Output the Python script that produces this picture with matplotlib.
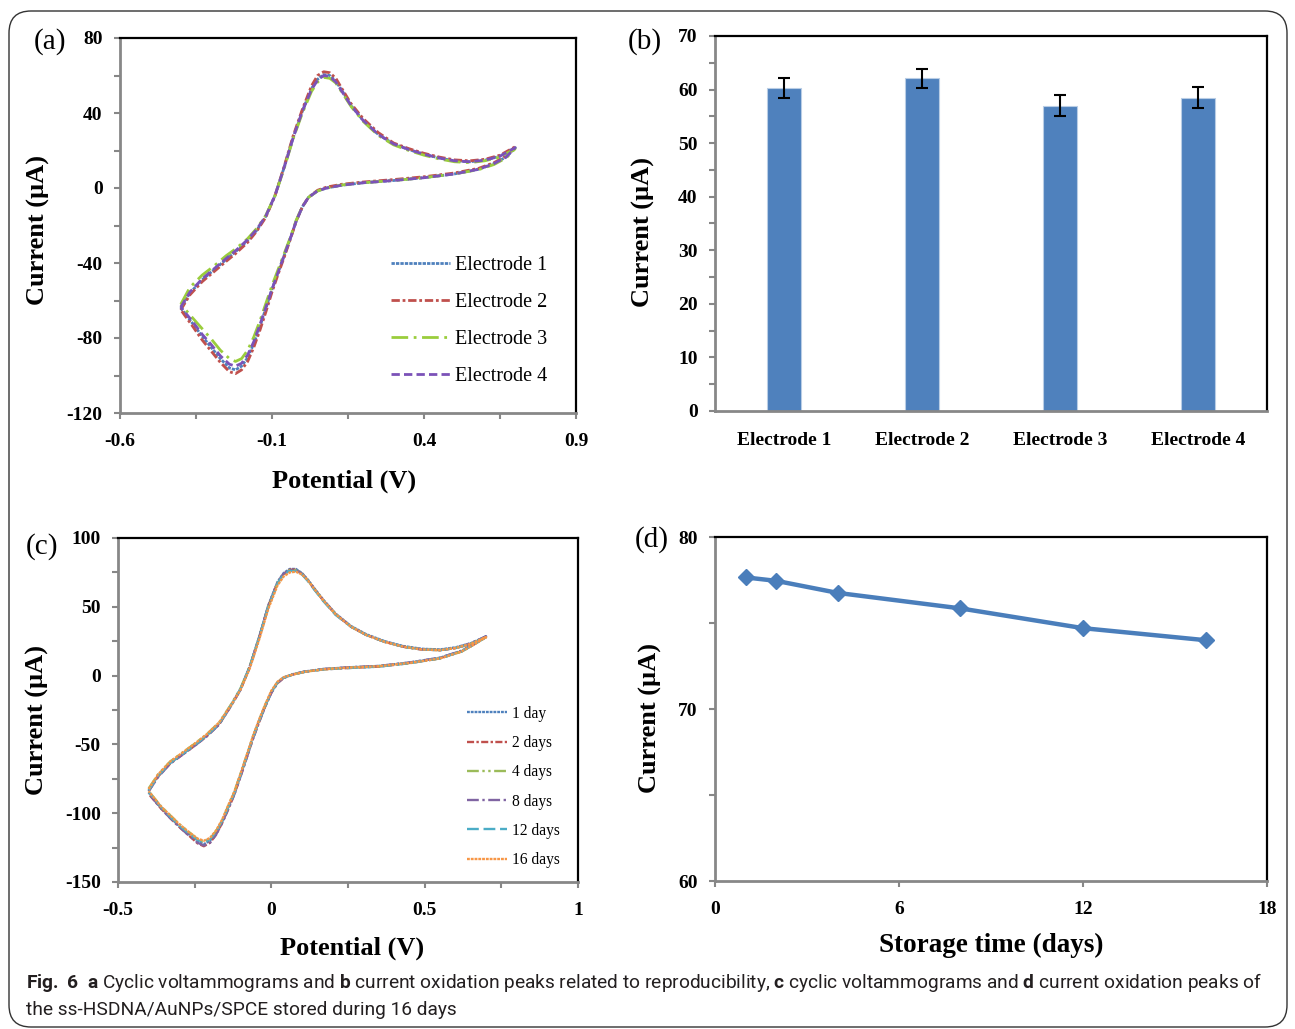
import numpy as np
import matplotlib
matplotlib.use("Agg")
import matplotlib.pyplot as plt
from matplotlib.patches import FancyBboxPatch
from matplotlib.transforms import IdentityTransform
from matplotlib.ticker import FuncFormatter

plt.rcParams["font.family"] = ["Liberation Serif", "DejaVu Serif"]
plt.rcParams["font.weight"] = "bold"
plt.rcParams["axes.unicode_minus"] = False
plt.rcParams["mathtext.fontset"] = "custom"
plt.rcParams["mathtext.rm"] = "Roboto"
plt.rcParams["mathtext.bf"] = "Roboto:bold"

# ---- (a) CV of four electrodes: forward sweep then reverse sweep ----
pot_a = [-0.40, -0.37, -0.33, -0.29, -0.25, -0.22, -0.18, -0.15, -0.12, -0.09,
         -0.06, -0.03, 0.00, 0.03, 0.05, 0.07, 0.09, 0.11, 0.13, 0.16,
         0.20, 0.25, 0.30, 0.35, 0.40, 0.45, 0.50, 0.55, 0.60, 0.65, 0.70,
         0.67, 0.63, 0.58, 0.50, 0.40, 0.30, 0.20, 0.13, 0.08, 0.05,
         0.02, 0.00, -0.02, -0.04, -0.06, -0.08, -0.10, -0.12, -0.14, -0.16,
         -0.18, -0.20, -0.22, -0.24, -0.27, -0.30, -0.33, -0.36, -0.40]
elec1 = [-64, -56, -49, -43.5, -38, -34, -28, -22.5, -15, -4,
         11, 27, 41, 53, 58, 60.5, 60, 57, 52, 44,
         36, 28.5, 23.5, 20.5, 18, 16, 14.5, 14, 14.8, 17, 21.5,
         16.5, 13, 10, 7.5, 5.5, 4, 2.8, 1.5, 0, -1.5,
         -5, -10, -17.5, -27, -36, -45, -54, -64, -74, -83,
         -90.5, -95, -97, -96, -91, -85, -79, -72.5, -64]
elec2 = [-65, -57, -50, -44.5, -39, -35, -29, -23, -15.5, -4,
         11.5, 28, 42, 54.5, 60, 62, 61.5, 58.5, 53, 45,
         37, 29.5, 24, 21, 18.5, 16.5, 15, 14.5, 15.3, 17.5, 22,
         17, 13.5, 10.5, 8, 6, 4.5, 3.2, 2, 0.5, -1.2,
         -5, -10, -17.5, -27.5, -37, -46, -55.5, -66, -76, -85,
         -92.5, -97, -99, -98, -93, -87, -81, -74, -65]
elec3 = [-62, -53, -46.5, -41.5, -36, -32.5, -27, -21.5, -14.5, -4,
         10.5, 26.5, 40, 51.5, 56.5, 59, 58.5, 56, 51, 43.5,
         35.5, 28, 23, 20, 17.5, 15.5, 14, 13.5, 14.5, 16.5, 21,
         16, 12.5, 9.8, 7.5, 5.5, 4, 2.8, 1.6, 0, -1.6,
         -5, -10, -17, -26.5, -35, -43.5, -52, -61.5, -71, -79.5,
         -86.5, -91, -92.5, -91, -86.5, -80.5, -75, -69.5, -62]
elec4 = [-63.5, -55.5, -48.5, -43, -37.5, -33.5, -27.5, -22, -14.8, -4,
         11, 27, 41, 52.5, 57.5, 60, 59.5, 56.5, 51.5, 44,
         36, 28.5, 23.5, 20.5, 18, 16, 14.5, 14, 14.8, 17, 21.5,
         16.5, 13, 10, 7.5, 5.5, 4, 2.8, 1.5, 0, -1.5,
         -5, -10, -17.5, -27, -36, -45, -54, -63.5, -73, -82,
         -89, -93.5, -95, -94, -89.5, -83.5, -78, -71.5, -63.5]

# ---- (b) oxidation peak currents ----
electrodes = ["Electrode 1", "Electrode 2", "Electrode 3", "Electrode 4"]
peak_b = [60.3, 62.1, 57.0, 58.5]
err_b = [1.9, 1.8, 2.0, 1.9]

# ---- (c) CV during storage ----
pot_c = [-0.40, -0.37, -0.33, -0.29, -0.25, -0.21, -0.17, -0.13, -0.10, -0.07,
         -0.04, -0.01, 0.02, 0.04, 0.06, 0.08, 0.10, 0.12, 0.14, 0.17,
         0.21, 0.26, 0.31, 0.37, 0.43, 0.49, 0.55, 0.60, 0.65, 0.70,
         0.66, 0.62, 0.55, 0.45, 0.35, 0.25, 0.17, 0.11, 0.07, 0.04,
         0.02, 0.00, -0.02, -0.04, -0.06, -0.08, -0.10, -0.12, -0.14, -0.16,
         -0.18, -0.20, -0.22, -0.24, -0.27, -0.30, -0.33, -0.36, -0.40]
day1 = [-83, -73, -63.5, -57, -50.5, -43.5, -35, -21, -9.5, 7,
        28, 51, 68, 74.5, 77.5, 77.5, 74.5, 69.5, 63.5, 55,
        45, 36, 30, 25, 21.5, 19.5, 19, 20.5, 23.5, 28.5,
        23, 18, 13, 9.5, 7, 6, 4.8, 3, 1, -1.5,
        -5, -12, -22, -33, -45, -58.5, -72, -85, -95.5, -106,
        -114, -120, -122.5, -120.5, -115, -109.5, -103, -96, -85]
day2 = [-84, -73.5, -64, -57.5, -51, -44, -35.5, -21.5, -10, 6.5,
        27.5, 50.5, 67.5, 74, 77, 77, 74, 69, 63, 54.5,
        44.5, 35.5, 29.5, 24.5, 21, 19, 18.5, 20, 23, 28,
        22.5, 17.5, 12.5, 9, 6.5, 5.5, 4.5, 2.8, 0.8, -1.8,
        -5.5, -12.5, -22.5, -34, -46, -59.5, -73, -86, -97, -107,
        -115.5, -121.5, -124, -122, -116, -110, -103.5, -96.5, -86]
day4 = [-82, -72, -62.5, -56, -49.5, -42.5, -34, -20.5, -9, 7,
        27.5, 50, 67, 73.5, 76.5, 76.5, 74, 69, 63, 54.5,
        44.5, 35.5, 29.5, 24.5, 21, 19, 18.5, 20, 23, 28,
        22.5, 17.5, 12.5, 9.2, 6.8, 5.8, 4.6, 2.8, 0.8, -1.5,
        -5, -11.5, -21.5, -32.5, -44.5, -58, -71, -84, -94.5, -105,
        -113, -118.5, -121, -119, -113.5, -108, -101.5, -95, -84]
day8 = [-84, -74, -64, -57.5, -51, -44, -35.5, -21.5, -10, 6.5,
        27.5, 50.5, 67.5, 74, 76.5, 76.5, 74, 69, 63, 54.5,
        44.5, 35.5, 29.5, 24.5, 21, 19, 18.5, 20, 23.5, 28.5,
        23, 18, 13, 9.5, 7, 6, 4.8, 3, 1, -1.5,
        -5.5, -12.5, -22.5, -33.5, -46, -59.5, -73, -86, -96.5, -107,
        -115.5, -121.5, -123.5, -121.5, -116, -110, -103.5, -96.5, -85.5]
day12 = [-83.5, -73, -63.5, -57, -50.5, -43.5, -35, -21, -9.5, 6.5,
         27.5, 50, 67, 73.5, 76, 76, 73.5, 68.5, 62.5, 54,
         44, 35.5, 29.5, 24.5, 21, 19, 18.5, 20, 23, 28,
         22.5, 17.5, 12.5, 9, 6.5, 5.5, 4.5, 2.8, 0.8, -1.5,
         -5, -12, -22, -33, -45, -58.5, -72, -85, -95.5, -105.5,
         -113.5, -119, -121, -119.5, -114.5, -109, -102.5, -95.5, -84.5]
day16 = [-82.5, -72, -62.5, -56, -49.5, -42.5, -34, -21, -10, 5.5,
         26, 48.5, 65.5, 72, 75, 75.5, 73.5, 69, 63, 54.5,
         44.5, 35.5, 29.5, 24.5, 21, 19, 18.5, 20, 23, 28,
         22.5, 17.5, 12.5, 9.2, 6.8, 5.8, 4.6, 2.8, 0.8, -1.2,
         -4.5, -11, -21, -32, -44, -57.5, -71, -84, -94, -104.5,
         -112.5, -118, -120, -118.5, -113.5, -108, -101.5, -95, -84]

# ---- (d) stability ----
storage_days = [1, 2, 4, 8, 12, 16]
storage_peak = [77.65, 77.45, 76.75, 75.85, 74.7, 74.0]

GRAY = "#878787"
W, H = 1295, 1029

fig = plt.figure(figsize=(12.95, 10.29), dpi=100)


def px_axes(left, top, right, bottom):
    return fig.add_axes([left / W, 1 - bottom / H, (right - left) / W, (bottom - top) / H])


def style(ax):
    for side in ["left", "bottom"]:
        ax.spines[side].set_color(GRAY)
        ax.spines[side].set_linewidth(2)
    for side in ["top", "right"]:
        ax.spines[side].set_color("black")
        ax.spines[side].set_linewidth(1.6)
    ax.tick_params(which="both", direction="out", color=GRAY, width=1.5,
                   length=4.5, labelsize=14, pad=8)
    ax.tick_params(axis="x", pad=10)
    ax.xaxis.set_major_formatter(FuncFormatter(lambda v, p: "%g" % round(v, 3)))
    ax.yaxis.set_major_formatter(FuncFormatter(lambda v, p: "%g" % round(v, 3)))


def fig_text(x, y, s, **kw):
    fig.text(x / W, 1 - y / H, s, ha="center", va="center", **kw)


# (a)
ax_a = px_axes(120, 38, 576, 413)
ax_a.plot(pot_a, elec1, color="#4F81BD", lw=2, ls=(0, (1.2, 0.4)), label="Electrode 1")
ax_a.plot(pot_a, elec2, color="#C0504D", lw=2, ls=(0, (3, 1, 1, 1)), label="Electrode 2")
ax_a.plot(pot_a, elec3, color="#9ACD3C", lw=2, ls=(0, (6, 2, 1, 2)), label="Electrode 3")
ax_a.plot(pot_a, elec4, color="#7B52B8", lw=2, ls=(0, (3, 1.5)), label="Electrode 4")
ax_a.set_xlim(-0.6, 0.9)
ax_a.set_ylim(-120, 80)
ax_a.set_xticks(np.arange(-0.6, 0.95, 0.5))
ax_a.set_xticks(np.arange(-0.35, 0.9, 0.5), minor=True)
ax_a.set_yticks(np.arange(-120, 81, 40))
ax_a.set_yticks(np.arange(-100, 80, 40), minor=True)
style(ax_a)
ax_a.legend(loc="upper left", bbox_to_anchor=(0.577, 0.44), frameon=False,
            prop={"size": 14.5, "weight": "normal"}, handlelength=2.9,
            handletextpad=0.25, labelspacing=0.88, borderaxespad=0)

# (b)
ax_b = px_axes(715, 36, 1267, 411)
xb = np.arange(len(electrodes))
ax_b.bar(xb, peak_b, width=0.25, color="#4F81BD", edgecolor="#B9CDE5", linewidth=0.8)
ax_b.errorbar(xb, peak_b, yerr=err_b, fmt="none", ecolor="black", elinewidth=1.5,
              capsize=4.5, capthick=1.5)
ax_b.set_xlim(-0.5, 3.5)
ax_b.set_ylim(0, 70)
ax_b.set_yticks(np.arange(0, 71, 10))
ax_b.set_yticks(np.arange(5, 70, 10), minor=True)
style(ax_b)
ax_b.set_xticks(xb)
ax_b.set_xticklabels(electrodes)
ax_b.tick_params(axis="x", length=0, pad=15)

# (c)
ax_c = px_axes(118, 538, 578, 882)
ax_c.plot(pot_c, day1, color="#4F81BD", lw=1.7, ls=(0, (1.2, 0.4)), label="1 day")
ax_c.plot(pot_c, day2, color="#C0504D", lw=1.7, ls=(0, (3, 1, 1, 1)), label="2 days")
ax_c.plot(pot_c, day4, color="#9BBB59", lw=1.7, ls=(0, (5, 1.5, 1, 1.5, 1, 1.5)), label="4 days")
ax_c.plot(pot_c, day8, color="#8064A2", lw=1.7, ls=(0, (5, 1.5, 1, 1.5)), label="8 days")
ax_c.plot(pot_c, day12, color="#4BACC6", lw=1.7, ls=(0, (5, 2)), label="12 days")
ax_c.plot(pot_c, day16, color="#F79646", lw=1.7, ls=(0, (1.2, 0.4)), label="16 days")
ax_c.set_xlim(-0.5, 1)
ax_c.set_ylim(-150, 100)
ax_c.set_xticks(np.arange(-0.5, 1.01, 0.5))
ax_c.set_xticks(np.arange(-0.25, 1, 0.5), minor=True)
ax_c.set_yticks(np.arange(-150, 101, 50))
ax_c.set_yticks(np.arange(-125, 100, 50), minor=True)
style(ax_c)
ax_c.legend(loc="upper left", bbox_to_anchor=(0.746, 0.53), frameon=False,
            prop={"size": 11.2, "weight": "normal"}, handlelength=2.55,
            handletextpad=0.3, labelspacing=0.85, borderaxespad=0)

# (d)
ax_d = px_axes(715, 537, 1267, 881)
ax_d.plot(storage_days, storage_peak, color="#4A7EBB", lw=3.2, marker="D", markersize=8)
ax_d.set_xlim(0, 18)
ax_d.set_ylim(60, 80)
ax_d.set_xticks(np.arange(0, 19, 6))
ax_d.set_yticks(np.arange(60, 81, 10))
ax_d.set_yticks(np.arange(65, 80, 10), minor=True)
style(ax_d)

# labels
for x, y, s in [(50, 42, "(a)"), (645, 42, "(b)"), (42, 547, "(c)"), (652, 540, "(d)")]:
    fig_text(x, y, s, fontsize=21, fontweight="normal")
for x, y in [(38, 230), (643, 232), (37, 720), (650, 718)]:
    fig_text(x, y, "Current (\u00b5A)", fontsize=19, rotation=90)
fig_text(344, 481, "Potential (V)", fontsize=19)
fig_text(352, 948, "Potential (V)", fontsize=19)
fig_text(991, 945, "Storage time (days)", fontsize=19.5)

# caption, sized so the first line spans the same width as the original
cap1 = (r"$\mathbf{Fig.}$ $\mathbf{6}$  $\mathbf{a}$ Cyclic voltammograms and $\mathbf{b}$ current oxidation "
        r"peaks related to reproducibility, $\mathbf{c}$ cyclic voltammograms and "
        r"$\mathbf{d}$ current oxidation peaks of")
cap2 = "the ss-HSDNA/AuNPs/SPCE stored during 16 days"
caps = []
for y, s in [(983, cap1), (1010, cap2)]:
    caps.append(fig.text(26 / W, 1 - y / H, s, ha="left", va="center", fontsize=15,
                         fontweight="normal", color="#231F20", family="Roboto"))
fig.canvas.draw()
w1 = caps[0].get_window_extent().width
for t in caps:
    t.set_fontsize(15 * 1239 / w1)

border = FancyBboxPatch((9, 2), 1278, 1016, boxstyle="round,pad=0,rounding_size=22",
                        transform=IdentityTransform(), fill=False,
                        edgecolor="#333333", linewidth=1)
fig.patches.append(border)

fig.savefig("out.png", dpi=100)
